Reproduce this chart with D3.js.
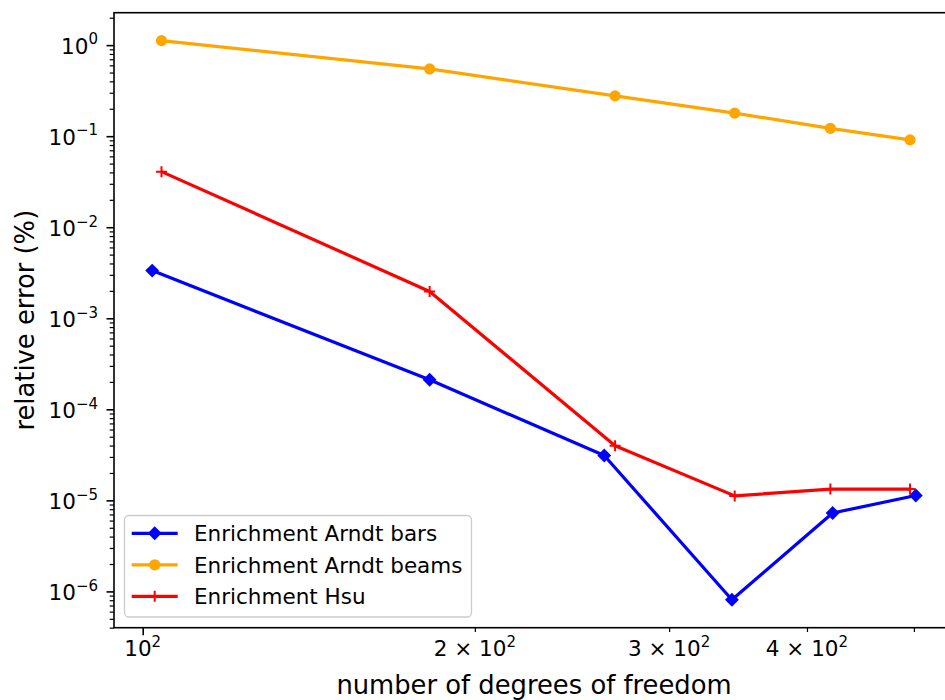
<!DOCTYPE html>
<html>
<head>
<meta charset="utf-8">
<script src="https://cdn.jsdelivr.net/npm/d3@7"></script>
<style>
  body { margin: 0; background: #fff; }
  svg { display: block; font-family: "DejaVu Sans", sans-serif; }
</style>
</head>
<body>
<svg id="chart"></svg>
<script>
// degrees of freedom / relative error (%) per method
var barsDof = [102, 182, 262, 342, 422, 502];
var barsError = [3.34e-3, 2.11e-4, 3.11e-5, 8.1e-7, 7.26e-6, 1.13e-5];
var beamsDof = [104, 182, 268, 344, 420, 496];
var beamsError = [1.12, 0.548, 0.277, 0.179, 0.122, 0.091];
var hsuDof = [104, 182, 268, 344, 420, 496];
var hsuError = [4.08e-2, 1.97e-3, 3.98e-5, 1.12e-5, 1.33e-5, 1.33e-5];

var seriesNames = ["Enrichment Arndt bars", "Enrichment Arndt beams", "Enrichment Hsu"];

var xMajorTicks = [100];
var xMinorTicks = [200, 300, 400, 500];
var xTickLabels = [["", "2"], ["2 \u00d7 10", "2"], ["3 \u00d7 10", "2"], ["4 \u00d7 10", "2"]];
var xLabelValues = [100, 200, 300, 400];
var yDecades = [0, -1, -2, -3, -4, -5, -6];

var width = 945, height = 700;
var plot = { left: 114, right: 954, top: 12.7, bottom: 627.7 };

var svg = d3.select("#chart")
  .attr("width", width)
  .attr("height", height);

/*
 * log axis limits padded by 5% like matplotlib autoscale
 */
function padLog(ext) {
  var a = Math.log10(ext[0]), b = Math.log10(ext[1]), m = 0.05 * (b - a);
  return [Math.pow(10, a - m), Math.pow(10, b + m)];
}

var x = d3.scaleLog()
  .domain(padLog(d3.extent(barsDof.concat(beamsDof, hsuDof))))
  .range([plot.left, plot.right]);

var y = d3.scaleLog()
  .domain(padLog(d3.extent(barsError.concat(beamsError, hsuError))))
  .range([plot.bottom, plot.top]);

// minor y ticks
var yMinor = [];
for (var k = -7; k <= 0; k++) {
  for (var m = 2; m <= 9; m++) {
    var v = m * Math.pow(10, k);
    if (v >= y.domain()[0] && v <= y.domain()[1]) yMinor.push(v);
  }
}

function tickStyle(g, w) {
  g.select(".domain").remove();
  g.selectAll(".tick line").attr("stroke", "#000").attr("stroke-width", w);
  g.selectAll(".tick text").remove();
}

svg.append("g")
  .attr("transform", "translate(" + plot.left + ",0)")
  .call(d3.axisLeft(y).tickValues(yDecades.map(function(e) { return Math.pow(10, e); })).tickSize(7.5).tickFormat(""))
  .call(tickStyle, 1.6);

svg.append("g")
  .attr("transform", "translate(" + plot.left + ",0)")
  .call(d3.axisLeft(y).tickValues(yMinor).tickSize(4.3).tickFormat(""))
  .call(tickStyle, 1.2);

svg.append("g")
  .attr("transform", "translate(0," + plot.bottom + ")")
  .call(d3.axisBottom(x).tickValues(xMajorTicks).tickSize(7.5).tickFormat(""))
  .call(tickStyle, 1.6);

svg.append("g")
  .attr("transform", "translate(0," + plot.bottom + ")")
  .call(d3.axisBottom(x).tickValues(xMinorTicks).tickSize(4.3).tickFormat(""))
  .call(tickStyle, 1.2);

// y tick labels 10^k
yDecades.forEach(function(e) {
  var t = svg.append("text")
    .attr("x", 98)
    .attr("y", y(Math.pow(10, e)) + 8.8)
    .attr("text-anchor", "end")
    .style("font-size", "21.5px");
  t.append("tspan").text("10");
  t.append("tspan").attr("dy", -9.5).style("font-size", "15px")
    .text(e < 0 ? "\u2212" + (-e) : String(e));
});

// x tick labels
xLabelValues.forEach(function(v, i) {
  var t = svg.append("text")
    .attr("x", x(v))
    .attr("y", 656)
    .attr("text-anchor", "middle")
    .style("font-size", "21.5px");
  t.append("tspan").text(xTickLabels[i][0] || "10");
  t.append("tspan").attr("dy", -9.5).style("font-size", "15px").text(xTickLabels[i][1]);
});

// spines
svg.append("rect")
  .attr("x", plot.left).attr("y", plot.top)
  .attr("width", plot.right - plot.left).attr("height", plot.bottom - plot.top)
  .attr("fill", "none").attr("stroke", "#000").attr("stroke-width", 1.6);

var line = d3.line()
  .x(function(d) { return x(d[0]); })
  .y(function(d) { return y(d[1]); });

var series = [
  { name: seriesNames[0], color: "#0000ff", marker: "diamond", pts: d3.zip(barsDof, barsError) },
  { name: seriesNames[1], color: "#ffa500", marker: "circle", pts: d3.zip(beamsDof, beamsError) },
  { name: seriesNames[2], color: "#ff0000", marker: "plus", pts: d3.zip(hsuDof, hsuError) }
];

function drawMarker(g, type, color, cx, cy) {
  if (type == "diamond") {
    g.append("path").attr("d", d3.symbol(d3.symbolSquare, 96)())
      .attr("transform", "translate(" + cx + "," + cy + ") rotate(45)")
      .attr("fill", color);
  } else if (type == "circle") {
    g.append("circle").attr("cx", cx).attr("cy", cy).attr("r", 5.6).attr("fill", color);
  } else {
    g.append("path").attr("d", "M-5.5,0H5.5M0,-5.5V5.5")
      .attr("transform", "translate(" + cx + "," + cy + ")")
      .attr("stroke", color).attr("stroke-width", 2).attr("fill", "none");
  }
}

series.forEach(function(s) {
  var g = svg.append("g");
  g.append("path")
    .attr("d", line(s.pts))
    .attr("fill", "none")
    .attr("stroke", s.color)
    .attr("stroke-width", 3.2)
    .attr("stroke-linejoin", "round");
  s.pts.forEach(function(p) {
    drawMarker(g, s.marker, s.color, x(p[0]), y(p[1]));
  });
});

// legend
var legend = svg.append("g");
legend.append("rect")
  .attr("x", 124.5).attr("y", 515.5).attr("width", 347).attr("height", 101.5).attr("rx", 4.5)
  .attr("fill", "#fff").attr("fill-opacity", 0.8)
  .attr("stroke", "#cccccc").attr("stroke-width", 1.3);

series.forEach(function(s, i) {
  var ly = 533.3 + i * 31.5;
  legend.append("line")
    .attr("x1", 131.7).attr("x2", 177.7).attr("y1", ly).attr("y2", ly)
    .attr("stroke", s.color).attr("stroke-width", 3.2);
  drawMarker(legend, s.marker, s.color, 154.7, ly);
  legend.append("text")
    .attr("x", 194).attr("y", ly + 7.8)
    .style("font-size", "21.5px")
    .text(s.name);
});

// axis titles
svg.append("text")
  .attr("x", (plot.left + plot.right) / 2)
  .attr("y", 694)
  .attr("text-anchor", "middle")
  .style("font-size", "25.8px")
  .text("number of degrees of freedom");

svg.append("text")
  .attr("transform", "translate(33.5," + ((plot.top + plot.bottom) / 2) + ") rotate(-90)")
  .attr("text-anchor", "middle")
  .style("font-size", "25.8px")
  .text("relative error (%)");
</script>
</body>
</html>
